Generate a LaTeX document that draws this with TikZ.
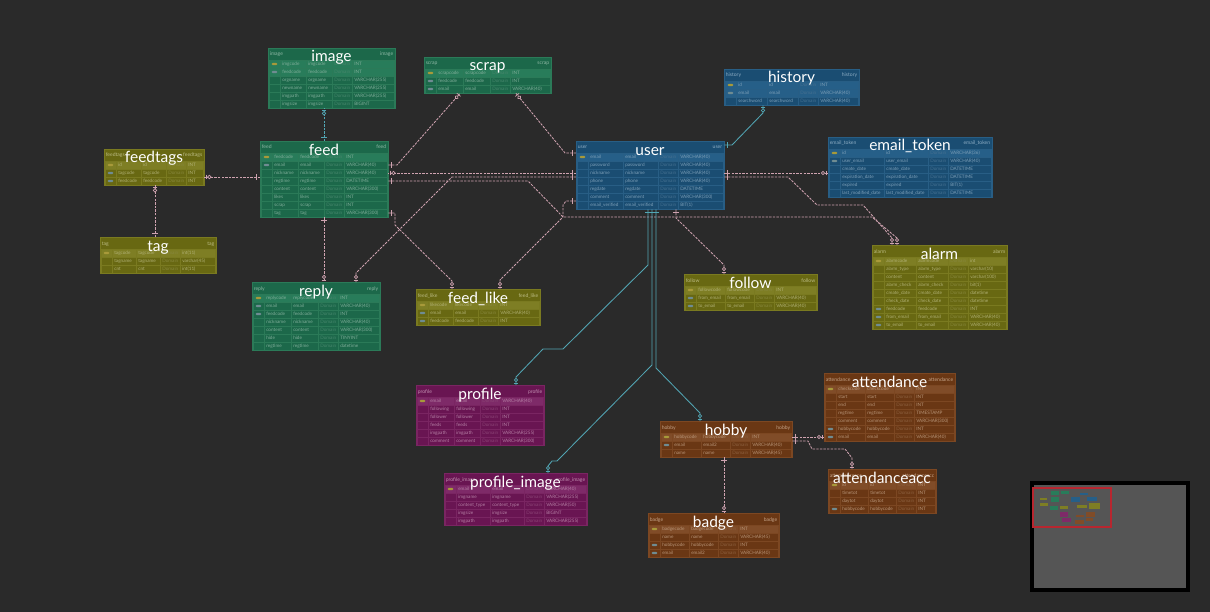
\documentclass[tikz,border=0pt]{standalone}
\usepackage{fontspec}
\setmainfont{Lato}
\usetikzlibrary{calc,decorations.markings}
\definecolor{bgc}{HTML}{2A2A2A}
\definecolor{relpink}{HTML}{CFA3B0}
\definecolor{relteal}{HTML}{52A6B4}
\definecolor{keypk}{HTML}{A89A3A}
\definecolor{keyfk}{HTML}{6F8C92}
\definecolor{grnbg}{HTML}{1C684A}
\definecolor{grnpk}{HTML}{287C5A}
\definecolor{grnln}{HTML}{2B7A58}
\definecolor{grntx}{HTML}{A9CBBB}
\definecolor{blubg}{HTML}{1A4D72}
\definecolor{blupk}{HTML}{265F88}
\definecolor{bluln}{HTML}{285E85}
\definecolor{blutx}{HTML}{A8C2D6}
\definecolor{olvbg}{HTML}{686812}
\definecolor{olvpk}{HTML}{7E7E24}
\definecolor{olvln}{HTML}{7A7A20}
\definecolor{olvtx}{HTML}{CFCF9E}
\definecolor{magbg}{HTML}{691552}
\definecolor{magpk}{HTML}{7E2A68}
\definecolor{magln}{HTML}{7A2562}
\definecolor{magtx}{HTML}{D6ADC8}
\definecolor{brnbg}{HTML}{6A3714}
\definecolor{brnpk}{HTML}{804C28}
\definecolor{brnln}{HTML}{7C4722}
\definecolor{brntx}{HTML}{D8BCA2}
\definecolor{mmgray}{HTML}{555555}
\definecolor{mmred}{HTML}{B8262F}
\newcommand{\pxu}{0.25mm}
\tikzset{
  tabframe/.style={inner sep=0pt, anchor=north west, line width=0.3pt},
  tabtitle/.style={font=\fontsize{11}{12}\selectfont, text=white, anchor=base, inner sep=0pt},
  hdlbl/.style={font=\fontsize{3.6}{4}\selectfont, inner sep=0pt},
  celltx/.style={font=\fontsize{3.3}{4}\selectfont, inner sep=0pt, anchor=base west},
  keyic/.style={draw=none, rounded corners=0.3mm, minimum width=1.4mm, minimum height=0.6mm, inner sep=0pt},
  relmarks/.style={postaction={decorate, decoration={markings,
      mark=at position 0.8mm with {\draw[solid, line width=0.5pt] (0,-0.7mm) -- (0,0.7mm);},
      mark=at position -0.45mm with {\draw[solid, line width=0.5pt] (0,-0.6mm) -- (0,0.6mm);},
      mark=at position -1.25mm with {\draw[solid, line width=0.5pt, fill=bgc] (0,0) circle (0.42mm);}}}},
  prel/.style={color=relpink, line width=0.6pt, dash pattern=on 0.6mm off 0.3mm, relmarks},
  trel/.style={color=relteal, line width=0.6pt, relmarks},
  tdrel/.style={trel, dash pattern=on 0.6mm off 0.3mm},
}
% #1 node, #2 title, #3 x, #4 y, #5 width, #6 name column, #7 colour, #8 rows, #9 row list
\newcommand{\erdtable}[9]{%
  \pgfmathsetmacro\tabh{12+8*#8}%
  \node[tabframe, fill=#7bg, draw=#7ln, minimum width=#5*\pxu, minimum height=\tabh*\pxu] (#1) at (#3,#4) {};%
  \node[hdlbl, anchor=base west, text=#7tx!80!#7bg] at (#3+1.5,#4+8) {#2};%
  \node[hdlbl, anchor=base east, text=#7tx!80!#7bg] at (#3+#5-1.5,#4+8) {#2};%
  \foreach \k/\lg/\ph/\ty [count=\i] in {#9} {%
    \pgfmathsetmacro\ry{#4+12+8*(\i-1)}%
    \ifnum\k>1 \fill[#7pk] (#3+1,\ry) rectangle (#3+#5-1,\ry+8); \fi
    \draw[#7ln, line width=0.2pt] (#3+1,\ry) rectangle ++(11,8)
      (#3+12,\ry) rectangle ++(#6,8)
      (#3+12+#6,\ry) rectangle ++(#6,8)
      (#3+12+2*#6,\ry) rectangle ++(20,8)
      (#3+32+2*#6,\ry) rectangle (#3+#5-1,\ry+8);
    \ifnum\k=2 \node[keyic, fill=keypk] at (#3+6.5,\ry+4) {}; \fi
    \ifnum\k=1 \node[keyic, fill=keyfk] at (#3+6.5,\ry+4) {}; \fi
    \ifnum\k=3 \node[keyic, fill=keyfk] at (#3+6.5,\ry+4) {}; \fi
    \node[celltx, text=#7tx!70!#7bg] at (#3+14,\ry+5.8) {\lg};
    \node[celltx, text=#7tx!70!#7bg] at (#3+14+#6,\ry+5.8) {\ph};
    \node[celltx, text=#7tx!30!#7bg] at (#3+14+2*#6,\ry+5.8) {Domain};
    \node[celltx, text=#7tx!70!#7bg] at (#3+34+2*#6,\ry+5.8) {\ty};
  }%
  \node[tabtitle] at (#3+#5/2,#4+14) {#2};%
}

\begin{document}
\begin{tikzpicture}[x=0.25mm, y=-0.25mm]
\fill[bgc] (0,0) rectangle (1210,612);
\useasboundingbox (0,0) rectangle (1210,612);

% green tables
\erdtable{image}{image}{268}{48}{127}{26}{grn}{6}{2/imgcode/imgcode/INT, 3/feedcode/feedcode/INT,
  0/orgname/orgname/VARCHAR(255), 0/newname/newname/VARCHAR(255), 0/imgpath/imgpath/VARCHAR(255), 0/imgsize/imgsize/BIGINT}
\erdtable{scrap}{scrap}{424}{57}{127}{27}{grn}{3}{2/scrapcode/scrapcode/INT, 1/feedcode/feedcode/INT, 1/email/email/VARCHAR(40)}
\erdtable{feed}{feed}{260}{141}{128}{26}{grn}{8}{2/feedcode/feedcode/INT, 1/email/email/VARCHAR(40),
  0/nickname/nickname/VARCHAR(40), 0/regtime/regtime/DATETIME, 0/content/content/VARCHAR(300),
  0/likes/likes/INT, 0/scrap/scrap/INT, 0/tag/tag/VARCHAR(300)}
\erdtable{reply}{reply}{252}{282}{128}{27}{grn}{7}{2/replycode/replycode/INT, 1/email/email/VARCHAR(40),
  1/feedcode/feedcode/INT, 0/nickname/nickname/VARCHAR(40), 0/content/content/VARCHAR(300),
  0/hide/hide/TINYINT, 0/regtime/regtime/datetime}

% olive tables
\erdtable{feedtags}{feedtags}{104}{149}{100}{25}{olv}{3}{2/id/id/INT, 1/tagcode/tagcode/INT, 1/feedcode/feedcode/INT}
\erdtable{tag}{tag}{100}{237}{116}{24}{olv}{3}{2/tagcode/tagcode/int(11), 0/tagname/tagname/varchar(45), 0/cnt/cnt/int(11)}
\erdtable{feed_like}{feed\_like}{416}{289}{124}{25}{olv}{3}{2/likecode/likecode/INT, 1/email/email/VARCHAR(40), 1/feedcode/feedcode/INT}
\erdtable{follow}{follow}{684}{274}{133}{29}{olv}{3}{2/followcode/followcode/INT, 1/from\_email/from\_email/VARCHAR(40), 1/to\_email/to\_email/VARCHAR(40)}
\erdtable{alarm}{alarm}{872}{245}{135}{32}{olv}{9}{2/alarmcode/alarmcode/int, 0/alarm\_type/alarm\_type/varchar(10),
  0/content/content/varchar(100), 0/alarm\_check/alarm\_check/bit(1), 0/create\_date/create\_date/datetime,
  0/check\_date/check\_date/datetime, 1/feedcode/feedcode/INT, 1/from\_email/from\_email/VARCHAR(40), 1/to\_email/to\_email/VARCHAR(40)}

% blue tables
\erdtable{user}{user}{576}{141}{148}{35}{blu}{7}{2/email/email/VARCHAR(40), 0/password/password/VARCHAR(40),
  0/nickname/nickname/VARCHAR(40), 0/phone/phone/VARCHAR(40), 0/regdate/regdate/DATETIME,
  0/comment/comment/VARCHAR(300), 0/email\_verified/email\_verified/BIT(1)}
\erdtable{history}{history}{724}{69}{135}{31}{blu}{3}{2/id/id/INT, 3/email/email/VARCHAR(40), 0/searchword/searchword/VARCHAR(40)}
\erdtable{email_token}{email\_token}{828}{137}{164}{44}{blu}{6}{2/id/id/VARCHAR(36), 1/user\_email/user\_email/VARCHAR(40),
  0/create\_date/create\_date/DATETIME, 0/expiration\_date/expiration\_date/DATETIME,
  0/expired/expired/BIT(1), 0/last\_modified\_date/last\_modified\_date/DATETIME}

% magenta tables
\erdtable{profile}{profile}{416}{385}{128}{26}{mag}{6}{2/email/email/VARCHAR(40), 0/following/following/INT,
  0/follower/follower/INT, 0/feeds/feeds/INT, 0/imgpath/imgpath/VARCHAR(255), 0/comment/comment/VARCHAR(300)}
\erdtable{profile_image}{profile\_image}{444}{473}{143}{34}{mag}{5}{2/email/email/VARCHAR(40), 0/imgname/imgname/VARCHAR(255),
  0/content\_type/content\_type/VARCHAR(50), 0/imgsize/imgsize/BIGINT, 0/imgpath/imgpath/VARCHAR(255)}

% brown tables
\erdtable{hobby}{hobby}{660}{421}{132}{29}{brn}{3}{2/hobbycode/hobbycode/INT, 1/email/email2/VARCHAR(40), 0/name/name/VARCHAR(45)}
\erdtable{attendance}{attendance}{824}{373}{131}{29}{brn}{7}{2/checkcode/checkcode/INT, 0/start/start/INT, 0/end/end/INT,
  0/regtime/regtime/TIMESTAMP, 0/comment/comment/VARCHAR(300), 1/hobbycode/hobbycode/INT, 1/email/email/VARCHAR(40)}
\erdtable{attendanceacc}{attendanceacc}{828}{469}{108}{28}{brn}{4}{2/id/id/INT, 0/timetot/timetot/INT, 0/daytot/daytot/INT, 1/hobbycode/hobbycode/INT}
\erdtable{badge}{badge}{648}{513}{131}{29}{brn}{4}{2/badgecode/badgecode/INT, 0/name/name/VARCHAR(45),
  1/hobbycode/hobbycode/INT, 1/email/email2/VARCHAR(40)}

% relations, parent first
\draw[prel] (feed.west |- 0,177) -- (feedtags.east |- 0,177);
\draw[prel] (tag.north -| 155,0) -- (feedtags.south -| 155,0);
\draw[tdrel] (feed.north -| 324,0) -- (image.south -| 324,0);
\draw[prel] (feed.east |- 0,165) -- (397,165) -- (scrap.south -| 460,0);
\draw[prel] (user.west |- 0,153) -- (565,153) -- (scrap.south -| 516,0);
\draw[prel] (user.west |- 0,173) -- (feed.east |- 0,173);
\draw[prel] (user.west |- 0,177) -- (452,177) -- (356,273) -- (reply.north -| 356,0);
\draw[prel] (feed.south -| 324,0) -- (reply.north -| 324,0);
\draw[prel] (feed.east |- 0,213) -- (395,213) -- (395,225) -- (452,281) -- (feed_like.north -| 452,0);
\draw[prel] (user.west |- 0,201) -- (566,201) -- (563,205) -- (563,217) -- (500,280) -- (feed_like.north -| 500,0);
\draw[prel] (feed.east |- 0,181) -- (528,181) -- (563,217) -- (872,217) -- (897,238) -- (alarm.north -| 897,0);
\draw[prel] (user.east |- 0,177) -- (788,177) -- (817,205) -- (863,205) -- (892,238) -- (alarm.north -| 892,0);
\draw[prel] (user.east |- 0,173) -- (email_token.west |- 0,173);
\draw[trel] (user.east |- 0,145) -- (732,145) -- (763,113) -- (history.south -| 763,0);
\draw[prel] (user.south -| 676,0) -- (676,218) -- (724,265) -- (follow.north -| 724,0);
\draw[trel] (user.south -| 648,0) -- (648,265) -- (563,349) -- (543,349) -- (516,377) -- (profile.north -| 516,0);
\draw[trel] (user.south -| 652,0) -- (652,365) -- (557,461) -- (552,461) -- (548,466) -- (profile_image.north -| 548,0);
\draw[trel] (user.south -| 656,0) -- (656,368) -- (700,413) -- (hobby.north -| 700,0);
\draw[prel] (hobby.east |- 0,437) -- (attendance.west |- 0,437);
\draw[prel] (hobby.east |- 0,441) -- (808,441) -- (812,449) -- (845,449) -- (852,458) -- (attendanceacc.north -| 852,0);
\draw[prel] (hobby.south -| 724,0) -- (badge.north -| 724,0);

% minimap
\fill[black] (1030,481) rectangle (1190,592);
\fill[mmgray] (1034,485) rectangle (1186,588);
\foreach \xa/\ya/\xb/\yb/\cc in {1051/491/1059/495/grnpk, 1061/491/1069/494/grnpk, 1080/493/1088/495/blupk,
  1040/498/1047/500/olvpk, 1051/497/1059/502/grnpk, 1071/497/1080/502/blupk, 1087/497/1097/501/blupk,
  1040/503/1048/506/olvpk, 1050/506/1058/510/grnpk, 1060/506/1068/509/olvpk, 1077/505/1087/508/olvpk,
  1089/503/1100/509/olvpk, 1060/512/1068/517/magpk, 1062/518/1071/522/magpk, 1076/515/1084/517/brnpk,
  1086/512/1095/517/brnpk, 1075/520/1084/524/brnpk, 1086/518/1093/521/brnpk}
  \fill[\cc] (\xa,\ya) rectangle (\xb,\yb);
\draw[mmred, line width=0.8pt] (1033,488) rectangle (1111,527);

\end{tikzpicture}
\end{document}
